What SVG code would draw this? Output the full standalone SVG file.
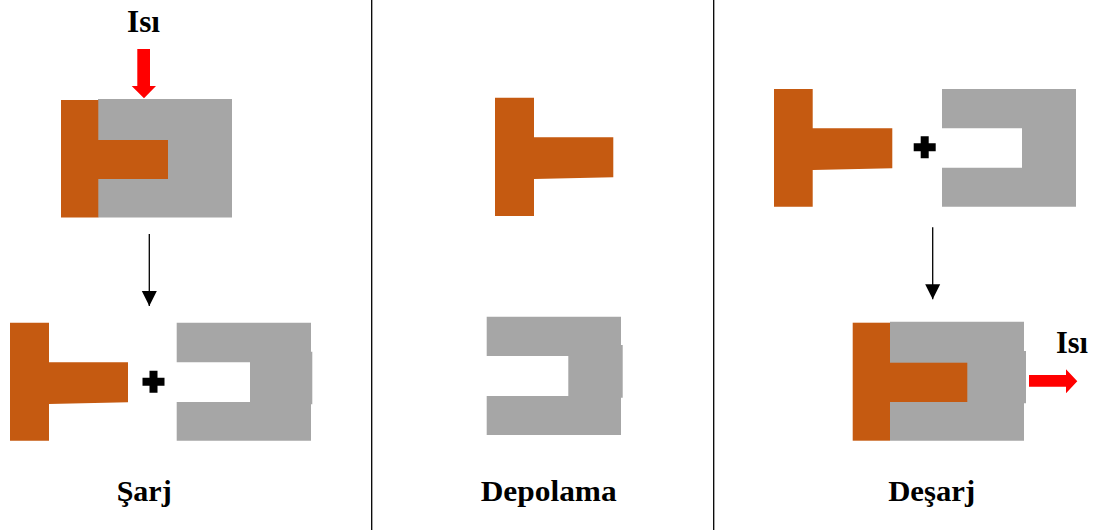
<svg xmlns="http://www.w3.org/2000/svg" width="1103" height="530" viewBox="0 0 1103 530">
<defs>
<style>
.or{fill:#C55A11}
.gr{fill:#A6A6A6}
.red{fill:#FF0000}
.lbl{font-family:"Liberation Serif","Times New Roman",serif;font-weight:bold;font-size:30px;fill:#000;text-anchor:middle}
.isi{font-family:"Liberation Serif","Times New Roman",serif;font-weight:bold;font-size:32px;fill:#000;text-anchor:middle}
.sep{stroke:#000;stroke-width:1.3}
.conn{stroke:#000;stroke-width:1.3;fill:none}
</style>
<marker id="ah" markerUnits="userSpaceOnUse" markerWidth="16" markerHeight="16" refX="15" refY="8" orient="auto">
<path d="M0,0.5 L15,8 L0,15.5 Z" fill="#000"/>
</marker>
</defs>
<rect width="1103" height="530" fill="#fff"/>

<g id="separators">
<line class="sep" x1="371.7" y1="0" x2="371.7" y2="530"/>
<line class="sep" x1="713.7" y1="0" x2="713.7" y2="530"/>
</g>

<g id="connectors">
<line class="conn" x1="149.3" y1="234" x2="149.3" y2="306" marker-end="url(#ah)"/>
<line class="conn" x1="932.7" y1="227.3" x2="932.7" y2="299.3" marker-end="url(#ah)"/>
</g>

<!-- Panel 1: Şarj -->
<g id="charge-heat">
<text class="isi" x="143.5" y="31.5" textLength="33" lengthAdjust="spacingAndGlyphs">Isı</text>
<path class="red" d="M137.3,49 H150 V86 H156 L144,98.3 L131.7,86 H137.3 Z"/>
</g>
<g id="charge-combined">
<rect class="gr" x="98" y="99" width="134" height="118.5"/>
<rect class="or" x="61" y="100" width="37.3" height="117.5"/>
<rect class="or" x="98" y="140" width="70" height="39"/>
</g>
<g id="charge-separated">
<path class="or" d="M10,322.7 H49 V362.3 H128 V402.3 L49,404 V440.7 H10 Z"/>
<path d="M149.5,370.7 h8 v7 h7 v8 h-7 v7 h-8 v-7 h-7 v-8 h7 Z" fill="#000"/>
<path class="gr" d="M176.7,322.7 H311 V351.7 H312.3 V404.3 H311 V440.7 H176.7 V402 H250 V362.3 H176.7 Z"/>
</g>
<g id="label-sarj"><text class="lbl" x="144.2" y="500.7" textLength="55" lengthAdjust="spacingAndGlyphs">Şarj</text></g>

<!-- Panel 2: Depolama -->
<g id="store-t">
<path class="or" d="M495,97.7 H534 V137.3 H613.3 V177.3 L534,179 V216 H495 Z"/>
</g>
<g id="store-u">
<path class="gr" d="M486.7,316.7 H621 V345 H622.7 V397.7 H621 V435 H486.7 V396 H568.3 V356 H486.7 Z"/>
</g>
<g id="label-depolama"><text class="lbl" x="548.7" y="500.7" textLength="136" lengthAdjust="spacingAndGlyphs">Depolama</text></g>

<!-- Panel 3: Deşarj -->
<g id="discharge-separated">
<path class="or" d="M774,89 H812.7 V128.3 H892.3 V168.3 L812.7,170 V206.7 H774 Z"/>
<path d="M920.7,136.3 h8 v7 h7 v8 h-7 v7 h-8 v-7 h-7 v-8 h7 Z" fill="#000"/>
<path class="gr" d="M942,89 H1076 V206.7 H942 V167.7 H1022 V128.3 H942 Z"/>
</g>
<g id="discharge-combined">
<path class="gr" d="M890,321.7 H1024 V351 H1026 V403.3 H1024 V440.7 H890 Z"/>
<rect class="or" x="852.7" y="322.7" width="37.3" height="118"/>
<rect class="or" x="890" y="362.7" width="77.3" height="39.3"/>
</g>
<g id="discharge-heat">
<path class="red" d="M1029,375 H1066 V369.3 L1077.3,381.2 L1066,393.3 V386.7 H1029 Z"/>
<text class="isi" x="1072" y="352.7" textLength="32" lengthAdjust="spacingAndGlyphs">Isı</text>
</g>
<g id="label-desarj"><text class="lbl" x="931.7" y="500.7" textLength="87" lengthAdjust="spacingAndGlyphs">Deşarj</text></g>
</svg>
